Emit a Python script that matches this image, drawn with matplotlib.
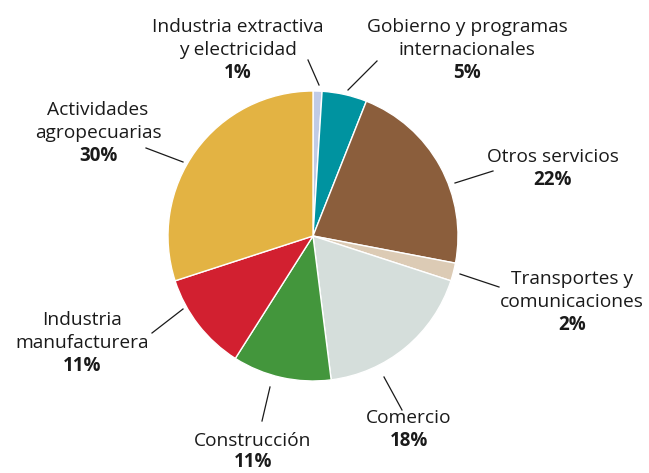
import matplotlib
matplotlib.use('Agg')
import matplotlib.pyplot as plt

# sector shares of the economy, clockwise from the top
sectors = ['Industria extractiva\ny electricidad',
           'Gobierno y programas\ninternacionales',
           'Otros servicios',
           'Transportes y\ncomunicaciones',
           'Comercio',
           'Construcción',
           'Industria\nmanufacturera',
           'Actividades\nagropecuarias']
shares = [1, 5, 22, 2, 18, 11, 11, 30]
colors = ['#c0cbe6', '#0093a0', '#8b5e3c', '#dccbb5',
          '#d5dedb', '#43963c', '#d22030', '#e3b343']

W, H = 649, 473
plt.rcParams['font.family'] = ['Open Sans', 'DejaVu Sans']

fig = plt.figure(figsize=(W / 100, H / 100), dpi=100)
ax = fig.add_axes([0, 0, 1, 1])

ax.pie(shares, colors=colors, startangle=90, counterclock=False,
       center=(313, H - 236), radius=145,
       wedgeprops=dict(edgecolor='white', linewidth=1))
ax.set_xlim(0, W)
ax.set_ylim(0, H)
ax.axis('off')

# label layout in pixels from the top-left: (x centre, y of first line, line gap, leader line)
layout = [
    (238, 27, 23, ((308, 60), (319, 85))),
    (467, 27, 23, ((377, 61), (348, 90))),
    (553, 157, 23, ((493, 171), (455, 183))),
    (572, 279, 23, ((499, 287), (460, 274))),
    (409, 418, 23, ((402, 410), (384, 377))),
    (253, 441, 21, ((262, 421), (270, 387))),
    (82, 320, 23, ((152, 333), (183, 309))),
    (98, 110, 23, ((146, 148), (183, 162))),
]

for name, share, (x, y, step, line) in zip(sectors, shares, layout):
    lines = name.split('\n')
    for i, ln in enumerate(lines):
        ax.text(x, H - (y + i * step), ln, ha='center', va='center',
                fontsize=13.8, color='#1a1a1a')
    ax.text(x, H - (y + len(lines) * step), f'{share}%', ha='center',
            va='center', fontsize=13.5, fontweight='bold', color='#1a1a1a')
    (x0, y0), (x1, y1) = line
    ax.plot([x0, x1], [H - y0, H - y1], color='#1a1a1a', lw=0.9)

fig.savefig('out.png', dpi=100)
